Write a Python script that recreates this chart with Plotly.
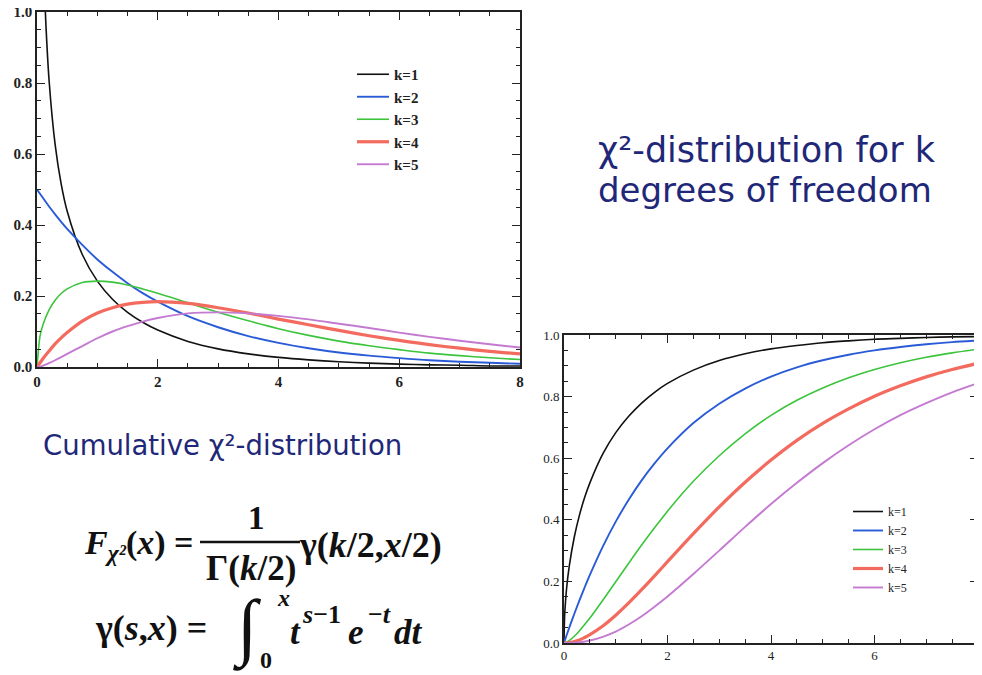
import plotly.graph_objects as go

# ---------------- data ----------------
legend_labels = ["k=1", "k=2", "k=3", "k=4", "k=5"]
line_colors = ["#111111", "#2a5bd7", "#3cc43c", "#f26b5e", "#c47ad1"]
line_widths = [1.6, 1.9, 1.6, 3.2, 1.9]

# probability density (top-left panel)
x_pdf_k1 = [0.13, 0.15, 0.2, 0.3, 0.4, 0.5, 0.75, 1, 1.25, 1.5, 1.75, 2, 2.5, 3, 3.5,
            4, 4.5, 5, 5.5, 6, 6.5, 7, 7.5, 8]
pdf_k1 = [1.037, 0.956, 0.807, 0.627, 0.516, 0.439, 0.317, 0.242, 0.191, 0.154, 0.126,
          0.104, 0.072, 0.051, 0.037, 0.027, 0.020, 0.015, 0.011, 0.008, 0.006, 0.005,
          0.003, 0.003]
x_pdf = [0, 0.05, 0.1, 0.2, 0.3, 0.4, 0.5, 0.75, 1, 1.25, 1.5, 1.75, 2, 2.5, 3, 3.5,
         4, 4.5, 5, 5.5, 6, 6.5, 7, 7.5, 8]
pdf_k2 = [0.500, 0.488, 0.476, 0.452, 0.430, 0.409, 0.389, 0.344, 0.303, 0.268, 0.236,
          0.208, 0.184, 0.143, 0.112, 0.087, 0.068, 0.053, 0.041, 0.032, 0.025, 0.019,
          0.015, 0.012, 0.009]
pdf_k3 = [0.000, 0.087, 0.120, 0.161, 0.188, 0.207, 0.220, 0.238, 0.242, 0.239, 0.231,
          0.220, 0.208, 0.181, 0.154, 0.130, 0.108, 0.089, 0.073, 0.060, 0.049, 0.039,
          0.032, 0.026, 0.021]
pdf_k4 = [0.000, 0.012, 0.024, 0.045, 0.065, 0.082, 0.097, 0.129, 0.152, 0.167, 0.177,
          0.182, 0.184, 0.179, 0.167, 0.152, 0.135, 0.119, 0.103, 0.088, 0.075, 0.063,
          0.053, 0.044, 0.037]
pdf_k5 = [0.000, 0.001, 0.004, 0.011, 0.019, 0.028, 0.037, 0.059, 0.081, 0.100, 0.115,
          0.128, 0.138, 0.151, 0.154, 0.151, 0.144, 0.134, 0.122, 0.110, 0.097, 0.085,
          0.074, 0.064, 0.055]

# cumulative distribution (bottom-right panel)
x_cdf = [0, 0.01, 0.02, 0.05, 0.1, 0.2, 0.3, 0.4, 0.5, 0.75, 1, 1.25, 1.5, 1.75, 2,
         2.5, 3, 3.5, 4, 4.5, 5, 5.5, 6, 6.5, 7, 7.5, 8]
cdf_k1 = [0.000, 0.080, 0.112, 0.177, 0.248, 0.345, 0.416, 0.473, 0.520, 0.614, 0.683,
          0.736, 0.779, 0.814, 0.843, 0.886, 0.917, 0.939, 0.955, 0.966, 0.975, 0.981,
          0.986, 0.989, 0.992, 0.994, 0.995]
cdf_k2 = [0.000, 0.005, 0.010, 0.025, 0.049, 0.095, 0.139, 0.181, 0.221, 0.313, 0.394,
          0.465, 0.528, 0.583, 0.632, 0.714, 0.777, 0.826, 0.865, 0.895, 0.918, 0.936,
          0.950, 0.961, 0.970, 0.977, 0.982]
cdf_k3 = [0.000, 0.000, 0.001, 0.003, 0.008, 0.022, 0.040, 0.060, 0.081, 0.139, 0.199,
          0.259, 0.318, 0.374, 0.428, 0.525, 0.608, 0.679, 0.739, 0.788, 0.828, 0.861,
          0.888, 0.910, 0.928, 0.942, 0.954]
cdf_k4 = [0.000, 0.000, 0.000, 0.000, 0.001, 0.005, 0.010, 0.018, 0.027, 0.055, 0.090,
          0.130, 0.173, 0.218, 0.264, 0.355, 0.442, 0.522, 0.594, 0.658, 0.713, 0.760,
          0.801, 0.835, 0.864, 0.888, 0.908]
cdf_k5 = [0.000, 0.000, 0.000, 0.000, 0.000, 0.001, 0.002, 0.005, 0.008, 0.020, 0.037,
          0.060, 0.087, 0.118, 0.151, 0.224, 0.300, 0.377, 0.451, 0.520, 0.584, 0.642,
          0.694, 0.740, 0.779, 0.814, 0.844]

x_ticks = [0, 2, 4, 6, 8]
y_ticks = [0.0, 0.2, 0.4, 0.6, 0.8, 1.0]
y_ticklabels = ["0.0", "0.2", "0.4", "0.6", "0.8", "1.0"]

# ---------------- figure ----------------
OFF = 8            # the page body adds an 8 px margin
W, H = 982 - OFF, 675 - OFF
fig = go.Figure()

pdf_x = [x_pdf_k1, x_pdf, x_pdf, x_pdf, x_pdf]
pdf_y = [pdf_k1, pdf_k2, pdf_k3, pdf_k4, pdf_k5]
for i in range(5):
    fig.add_trace(go.Scatter(
        x=pdf_x[i], y=pdf_y[i], mode="lines", name=legend_labels[i],
        line=dict(color=line_colors[i], width=line_widths[i], shape="spline", smoothing=0.8),
        xaxis="x", yaxis="y", legend="legend"))

cdf_y = [cdf_k1, cdf_k2, cdf_k3, cdf_k4, cdf_k5]
for i in range(5):
    fig.add_trace(go.Scatter(
        x=x_cdf, y=cdf_y[i], mode="lines", name=legend_labels[i],
        line=dict(color=line_colors[i], width=line_widths[i], shape="spline", smoothing=0.8),
        xaxis="x2", yaxis="y2", legend="legend2"))

def px_x(p):
    return (p - OFF) / W

def px_y(p):
    return 1 - (p - OFF) / H

serif = "Liberation Serif, Times New Roman, serif"

def xaxis_style(domain, anchor, size, weight):
    return dict(domain=domain, anchor=anchor, range=[0, 8], tickvals=x_ticks,
                automargin=False, ticklabeloverflow="allow",
                ticks="inside", ticklen=8, tickwidth=1.3, tickcolor="#222",
                minor=dict(ticks="inside", dtick=0.5, ticklen=4, tickwidth=1.1, tickcolor="#222"),
                showline=True, linecolor="#222", linewidth=1.6, mirror="ticks",
                showgrid=False, zeroline=False,
                tickfont=dict(family=serif, size=size, color="#222", weight=weight))

def yaxis_style(domain, anchor, size, weight):
    return dict(domain=domain, anchor=anchor, range=[0, 1], tickvals=y_ticks,
                ticktext=y_ticklabels, automargin=False, ticklabeloverflow="allow",
                ticks="inside", ticklen=8, tickwidth=1.3, tickcolor="#222",
                minor=dict(ticks="inside", dtick=0.05, ticklen=4, tickwidth=1.1, tickcolor="#222"),
                showline=True, linecolor="#222", linewidth=1.6, mirror="ticks",
                showgrid=False, zeroline=False,
                tickfont=dict(family=serif, size=size, color="#222", weight=weight))

fig.update_layout(
    width=W, height=H, margin=dict(l=0, r=0, t=0, b=0, autoexpand=False),
    paper_bgcolor="white", plot_bgcolor="white",
    xaxis=xaxis_style([px_x(37), px_x(520)], "y", 15, "bold"),
    yaxis=yaxis_style([px_y(367), px_y(12)], "x", 15, "bold"),
    xaxis2=xaxis_style([px_x(564), px_x(978)], "y2", 13, "normal"),
    yaxis2=yaxis_style([px_y(643), px_y(335)], "x2", 13, "normal"),
    legend=dict(x=px_x(352), y=px_y(58), xanchor="left", yanchor="top",
                bgcolor="rgba(0,0,0,0)", itemwidth=32, tracegroupgap=0,
                font=dict(family=serif, size=15, color="#222", weight="bold")),
    legend2=dict(x=px_x(848), y=px_y(497), xanchor="left", yanchor="top",
                 bgcolor="rgba(0,0,0,0)", itemwidth=30, tracegroupgap=0,
                 font=dict(family=serif, size=12, color="#222")),
    showlegend=True,
)

navy = "#1f2878"
sans = "DejaVu Sans, sans-serif"
anns = [
    dict(text="χ²-distribution for k", x=px_x(596), y=px_y(150),
         font=dict(family=sans, size=35, color=navy), xanchor="left", yanchor="middle"),
    dict(text="degrees of freedom", x=px_x(596), y=px_y(190),
         font=dict(family=sans, size=34, color=navy), xanchor="left", yanchor="middle"),
    dict(text="Cumulative χ²-distribution", x=px_x(41), y=px_y(445),
         font=dict(family=sans, size=27.5, color=navy), xanchor="left", yanchor="middle"),
]
fbi = "Liberation Serif, Times New Roman, serif"
formula = [
    ("<b><i>F</i></b><sub><b><i>χ²</i></b></sub><b>(<i>x</i>) =</b>", 82, 545, 34, "left"),
    ("<b>1</b>", 256, 518, 33, "center"),
    ("<b>Γ(<i>k</i>/2)</b>", 251, 568, 35, "center"),
    ("<b>γ(<i>k</i>/2,<i>x</i>/2)</b>", 297, 545, 36, "left"),
    ("<b>γ(<i>s</i>,<i>x</i>) =</b>", 93, 628, 36, "left"),
    ("∫", 247, 628, 74, "center"),
    ("<b><i>x</i></b>", 283, 598, 24, "center"),
    ("<b>0</b>", 266, 660, 24, "center"),
    ("<b><i>t</i></b>", 288, 632, 35, "left"),
    ("<b><i>s</i>−1</b>", 300, 614, 26, "left"),
    ("<b><i>e</i></b>", 346, 632, 35, "left"),
    ("<b>−<i>t</i></b>", 366, 614, 26, "left"),
    ("<b><i>dt</i></b>", 392, 632, 35, "left"),
]
for text, xp, yp, size, anchor in formula:
    anns.append(dict(text=text, x=px_x(xp), y=px_y(yp), xanchor=anchor, yanchor="middle",
                     font=dict(family=fbi, size=size, color="#111")))
for a in anns:
    a.update(xref="paper", yref="paper", showarrow=False)
fig.update_layout(annotations=anns)

fig.add_shape(type="line", xref="paper", yref="paper",
              x0=px_x(200), x1=px_x(300), y0=px_y(542), y1=px_y(542),
              line=dict(color="#111", width=2.5))

fig.write_html("out.html")
